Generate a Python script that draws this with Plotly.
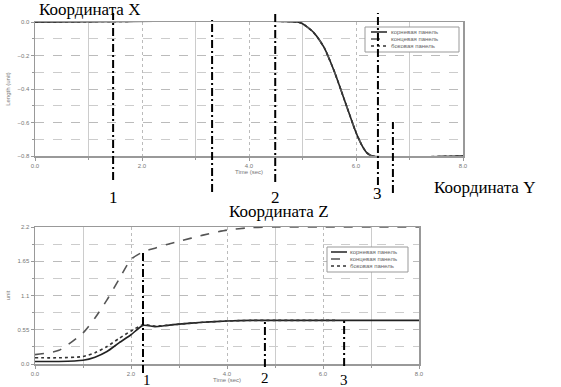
import plotly.graph_objects as go

W, H = 561, 387

# ---------------- data ----------------
series_names = ["корневая панель", "концевая панель", "боковая панель"]

t_top = [0.0, 4.9, 5.0, 5.2, 5.4, 5.6, 5.8, 6.0, 6.1, 6.2, 6.3, 8.0]
x_coord = [0.0, 0.0, -0.01, -0.06, -0.15, -0.30, -0.48, -0.66, -0.73, -0.78, -0.80, -0.80]

t_bot = [0.0, 0.5, 1.0, 1.25, 1.5, 1.75, 2.0, 2.25, 2.5, 2.75, 3.0, 3.5, 4.0, 4.5, 5.0, 6.0, 6.3, 7.0, 8.0]
z_root = [0.04, 0.04, 0.06, 0.11, 0.20, 0.34, 0.47, 0.62, 0.60, 0.62, 0.64, 0.67, 0.69, 0.70, 0.70, 0.70, 0.70, 0.70, 0.70]
z_tip = [0.15, 0.22, 0.50, 0.74, 1.03, 1.36, 1.68, 1.80, 1.86, 1.92, 1.97, 2.07, 2.15, 2.19, 2.20, 2.20, 2.20, 2.20, 2.20]
z_side = [0.10, 0.10, 0.12, 0.18, 0.28, 0.41, 0.53, 0.63, 0.61, 0.62, 0.64, 0.67, 0.69, 0.70, 0.70, 0.70, 0.70, None, None]

top_marker_t = [1.46, 3.31, 4.49, 6.41, 6.69]
top_marker_labels = ["1", "", "2", "3", ""]
bot_marker_t = [2.25, 4.79, 6.44]
bot_marker_labels = ["1", "2", "3"]

# ---------------- helpers ----------------
def px(x):
    return x / W

def py(y):
    return 1 - y / H

top_dom_x = [px(35), px(463)]
top_dom_y = [py(156), py(22)]
bot_dom_x = [px(35), px(419)]
bot_dom_y = [py(364), py(227)]

styles = [
    dict(color="#222", width=1.6, dash="solid"),
    dict(color="#555", width=1.6, dash="dash"),
    dict(color="#333", width=1.6, dash="dot"),
]

fig = go.Figure()

for name, st in zip(series_names, styles):
    fig.add_trace(go.Scatter(x=t_top, y=x_coord, mode="lines", name=name,
                             line=dict(**st, shape="spline", smoothing=0.6),
                             xaxis="x", yaxis="y", showlegend=False))

for name, st, vals in zip(series_names, styles, [z_root, z_tip, z_side]):
    fig.add_trace(go.Scatter(x=t_bot, y=vals, mode="lines", name=name,
                             line=dict(**st, shape="spline", smoothing=0.6),
                             xaxis="x2", yaxis="y2", showlegend=False))

tickfont = dict(family="Liberation Sans", size=6, color="#777")
titlefont = dict(family="Liberation Sans", size=6, color="#777")
common = dict(showline=True, mirror=True, linecolor="#999", linewidth=1.5, ticks="outside", ticklen=3,
              tickcolor="#999", tickfont=tickfont, automargin=False, zeroline=False, showgrid=True,
              layer="below traces")

fig.update_layout(
    width=W, height=H,
    margin=dict(l=0, r=0, t=0, b=0),
    paper_bgcolor="white", plot_bgcolor="white",
    showlegend=False,
    hovermode=False,
    xaxis=dict(domain=top_dom_x, anchor="y", range=[0, 8], dtick=2, tickformat=".1f",
               gridcolor="#bbb", griddash="dot",
               minor=dict(dtick=1, showgrid=True, gridcolor="#ccc", griddash="solid", ticks="outside", ticklen=2, tickcolor="#999"),
               title=dict(text="Time (sec)", font=titlefont, standoff=2), **common),
    yaxis=dict(domain=top_dom_y, anchor="x", range=[-0.8, 0], dtick=0.2, tickformat=".1f",
               gridcolor="#bbb", griddash="dash",
               minor=dict(dtick=0.1, showgrid=True, gridcolor="#ccc", griddash="dash", ticks="outside", ticklen=2, tickcolor="#999"),
               title=dict(text="Length (unit)", font=titlefont, standoff=6), **common),
    xaxis2=dict(domain=bot_dom_x, anchor="y2", range=[0, 8], dtick=2, tickformat=".1f",
                gridcolor="#bbb", griddash="dot",
                minor=dict(dtick=1, showgrid=True, gridcolor="#ccc", griddash="solid", ticks="outside", ticklen=2, tickcolor="#999"),
                title=dict(text="Time (sec)", font=titlefont, standoff=2), **common),
    yaxis2=dict(domain=bot_dom_y, anchor="x2", range=[0, 2.2], tickvals=[0, 0.55, 1.1, 1.65, 2.2],
                ticktext=["0.0", "0.55", "1.1", "1.65", "2.2"],
                gridcolor="#bbb", griddash="dash",
                minor=dict(tick0=0, dtick=0.275, showgrid=True, gridcolor="#ccc", griddash="dash", ticks="outside", ticklen=2, tickcolor="#999"),
                title=dict(text="unit", font=titlefont, standoff=6), **common),
)

# ---------- hand-made compact legends ----------
def add_legend(box, sample_x, text_x, rows_y):
    x0, y0, x1, y1 = box
    fig.add_shape(type="rect", xref="paper", yref="paper", x0=px(x0), x1=px(x1), y0=py(y1), y1=py(y0),
                  line=dict(color="#999", width=1), fillcolor="white", layer="above")
    for name, st, ry in zip(series_names, styles, rows_y):
        fig.add_shape(type="line", xref="paper", yref="paper", x0=px(sample_x[0]), x1=px(sample_x[1]),
                      y0=py(ry), y1=py(ry), line=dict(color=st["color"], width=1.5, dash=st["dash"]), layer="above")
        fig.add_annotation(x=px(text_x), y=py(ry), xref="paper", yref="paper", text=name, showarrow=False,
                           xanchor="left", yanchor="middle",
                           font=dict(family="Liberation Sans", size=6, color="#666"))

add_legend((365, 27, 459, 52), (371, 387), 389, [32, 39, 46])
add_legend((327, 247, 408, 272), (331, 347), 348, [252, 259, 266])

# ---------- dash-dot marker lines and labels ----------
marker_line = dict(color="black", width=2, dash="8px,3px,2px,3px")

top_extent = [(13, 180), (20, 192), (13, 182), (13, 185), (122, 193)]
for t, (y0, y1) in zip(top_marker_t, top_extent):
    fig.add_shape(type="line", xref="x", yref="paper", x0=t, x1=t, y0=py(y1), y1=py(y0), line=marker_line, layer="above")
top_label_y = [197, 0, 197, 193, 0]
for t, lab, ly in zip(top_marker_t, top_marker_labels, top_label_y):
    if lab:
        fig.add_annotation(x=t, y=py(ly), xref="x", yref="paper", text=lab, showarrow=False,
                           font=dict(family="Liberation Serif", size=17, color="black"), xanchor="center", yanchor="middle")

bot_extent = [(252, 373), (320, 367), (320, 366)]
for t, (y0, y1) in zip(bot_marker_t, bot_extent):
    fig.add_shape(type="line", xref="x2", yref="paper", x0=t, x1=t, y0=py(y1), y1=py(y0), line=marker_line, layer="above")
bot_label_pos = [(2.33, 380), (4.79, 378), (6.44, 380)]
for (t, ly), lab in zip(bot_label_pos, bot_marker_labels):
    fig.add_annotation(x=t, y=py(ly), xref="x2", yref="paper", text=lab, showarrow=False,
                       font=dict(family="Liberation Serif", size=15, color="black"), xanchor="center", yanchor="middle")

big = dict(family="Liberation Serif", size=17, color="black")
fig.add_annotation(x=px(37), y=py(9), xref="paper", yref="paper", text="Координата X", showarrow=False,
                   font=big, xanchor="left", yanchor="middle")
fig.add_annotation(x=px(432), y=py(187), xref="paper", yref="paper", text="Координата Y", showarrow=False,
                   font=big, xanchor="left", yanchor="middle")
fig.add_annotation(x=px(227), y=py(211), xref="paper", yref="paper", text="Координата Z", showarrow=False,
                   font=big, xanchor="left", yanchor="middle")

fig.write_html("out.html", config={"displayModeBar": False, "staticPlot": True},
               post_script="document.body.style.margin='0';document.body.style.overflow='hidden';")
